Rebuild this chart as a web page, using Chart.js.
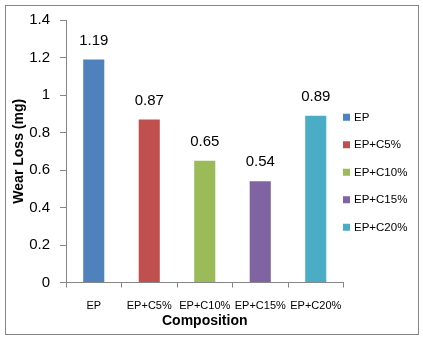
<!DOCTYPE html>
<html>
<head>
<meta charset="utf-8">
<script src="https://cdn.jsdelivr.net/npm/chart.js@4/dist/chart.umd.min.js"></script>
<style>
html,body{margin:0;padding:0;background:#fff;}
#wrap{position:relative;width:423px;height:340px;}
</style>
</head>
<body>
<div id="wrap"><canvas id="c" width="423" height="340"></canvas></div>
<script>
const categories = ['EP', 'EP+C5%', 'EP+C10%', 'EP+C15%', 'EP+C20%'];
const wearLoss = [1.19, 0.87, 0.65, 0.54, 0.89];
const barColors = ['#4F81BD', '#C0504D', '#9BBB59', '#8064A2', '#4BACC6'];
const yTicks = [0, 0.2, 0.4, 0.6, 0.8, 1, 1.2, 1.4];
const yTitle = 'Wear Loss (mg)';
const xTitle = 'Composition';

const FONT = "'Liberation Sans', Arial, sans-serif";
const AXIS = '#868686';

const framePlugin = {
  id: 'frame',
  beforeDraw(chart) {
    const ctx = chart.ctx;
    ctx.save();
    ctx.fillStyle = '#fff';
    ctx.fillRect(0, 0, chart.width, chart.height);
    ctx.strokeStyle = AXIS;
    ctx.lineWidth = 1;
    ctx.strokeRect(5.5, 5.5, chart.width - 10, chart.height - 11);
    ctx.restore();
  }
};

const valueLabels = {
  id: 'valueLabels',
  afterDatasetsDraw(chart) {
    const ctx = chart.ctx;
    const meta = chart.getDatasetMeta(0);
    ctx.save();
    ctx.font = '15px ' + FONT;
    ctx.fillStyle = '#000';
    ctx.textAlign = 'center';
    ctx.textBaseline = 'middle';
    meta.data.forEach((el, i) => {
      ctx.fillText(wearLoss[i].toFixed(2), el.x, el.y - 19);
    });
    ctx.restore();
  }
};

const sideLegend = {
  id: 'sideLegend',
  afterDraw(chart) {
    const ctx = chart.ctx;
    const a = chart.chartArea;
    const step = 27.5;
    const midY = (a.top + a.bottom) / 2 + 21;
    const y0 = midY - step * (categories.length - 1) / 2;
    const x0 = a.right - 0.5;
    ctx.save();
    ctx.font = '11.5px ' + FONT;
    ctx.textBaseline = 'middle';
    ctx.textAlign = 'left';
    categories.forEach((c, i) => {
      const y = y0 + i * step;
      ctx.fillStyle = barColors[i];
      ctx.fillRect(x0, y - 3.5, 7, 7);
      ctx.fillStyle = '#000';
      ctx.fillText(c, x0 + 11, y + 0.5);
    });
    ctx.restore();
  }
};

new Chart(document.getElementById('c'), {
  type: 'bar',
  data: {
    labels: categories,
    datasets: [{
      data: wearLoss,
      backgroundColor: barColors,
      borderWidth: 0,
      barPercentage: 0.38,
      categoryPercentage: 1.0
    }]
  },
  options: {
    responsive: false,
    animation: false,
    devicePixelRatio: 1,
    layout: { padding: { top: 20, right: 79.5, bottom: 0, left: 0 } },
    plugins: {
      legend: { display: false },
      tooltip: { enabled: false }
    },
    scales: {
      x: {
        afterFit(s) { s.height = 57.5; },
        grid: { display: true, drawOnChartArea: false, drawTicks: true, tickLength: 5, color: AXIS, offset: true },
        border: { color: AXIS, width: 1 },
        ticks: { font: { family: FONT, size: 11 }, color: '#000', padding: 12, maxRotation: 0, autoSkip: false },
        title: { display: true, text: xTitle, font: { family: FONT, size: 14, weight: 'bold', lineHeight: 1.2 }, color: '#000', padding: { top: 0, bottom: 10 } }
      },
      y: {
        min: 0,
        max: 1.4,
        afterFit(s) { s.width = 66; },
        afterBuildTicks(s) { s.ticks = yTicks.map(v => ({ value: v })); },
        grid: { display: true, drawOnChartArea: false, drawTicks: true, tickLength: 6, color: AXIS },
        border: { color: AXIS, width: 1 },
        ticks: {
          font: { family: FONT, size: 15 }, color: '#000', padding: 10,
          callback: v => String(Math.round(v * 10) / 10)
        },
        title: { display: true, text: yTitle, font: { family: FONT, size: 14, weight: 'bold', lineHeight: 1.2 }, color: '#000', padding: { top: 11, bottom: 0 } }
      }
    }
  },
  plugins: [framePlugin, valueLabels, sideLegend]
});
</script>
</body>
</html>
